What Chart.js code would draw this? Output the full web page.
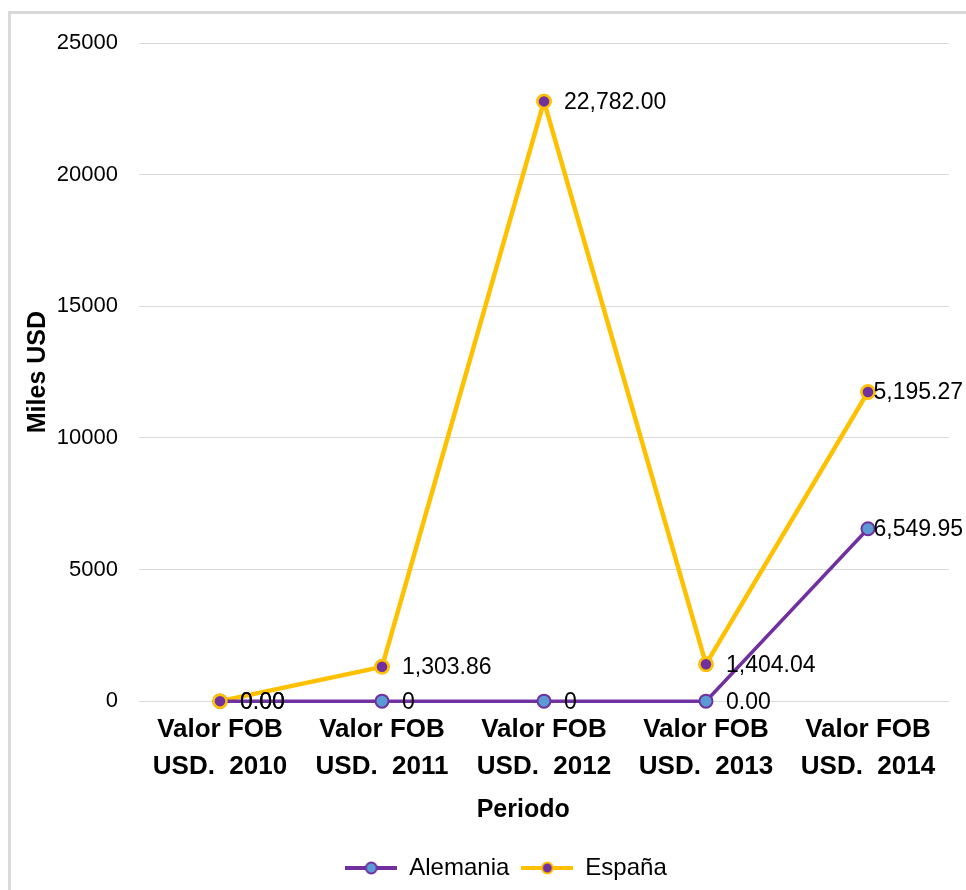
<!DOCTYPE html>
<html>
<head>
<meta charset="utf-8">
<script src="https://cdn.jsdelivr.net/npm/chart.js@4.4.1/dist/chart.umd.min.js"></script>
<style>
    html, body { margin: 0; padding: 0; background: #fff; overflow: hidden; }
    #frame {
        position: absolute; left: 8px; top: 11px; width: 1100px; height: 1000px;
        border-left: 3px solid #d9d9d9; border-top: 3px solid #d9d9d9;
    }
    #ExportChart { position: absolute; left: 0; top: 0; }
</style>
</head>
<body>
<div id="frame"></div>
<canvas id="ExportChart" width="966" height="890"></canvas>
<script>
const categories = [
    ["Valor FOB", "USD.  2010"],
    ["Valor FOB", "USD.  2011"],
    ["Valor FOB", "USD.  2012"],
    ["Valor FOB", "USD.  2013"],
    ["Valor FOB", "USD.  2014"],
];
const alemania = [0, 0, 0, 0, 6549.95];
const espana = [0, 1303.86, 22782.00, 1404.04, 5195.27];
// labels as they were shown in the source sheet
const alemaniaLabels = ["0.00", "0", "0", "0.00", "6,549.95"];
const espanaLabels = ["0.00", "1,303.86", "22,782.00", "1,404.04", "5,195.27"];
const yTicks = [0, 5000, 10000, 15000, 20000, 25000];

const FONT = "'Liberation Sans', Arial, sans-serif";

function legendSymbol(lineColor, fill, border) {
    const c = document.createElement("canvas");
    c.width = 52;
    c.height = 16;
    const g = c.getContext("2d");
    g.strokeStyle = lineColor;
    g.lineWidth = 4;
    g.beginPath();
    g.moveTo(0, 8);
    g.lineTo(52, 8);
    g.stroke();
    g.beginPath();
    g.arc(26, 8, 5.5, 0, Math.PI * 2);
    g.fillStyle = fill;
    g.fill();
    g.lineWidth = 2;
    g.strokeStyle = border;
    g.stroke();
    return c;
}

const symbols = [
    legendSymbol("#7030A0", "#5B9BD5", "#7030A0"),
    legendSymbol("#FFC000", "#7030A0", "#FFC000"),
];

function ExportChart() {
    const ctx = document.getElementById("ExportChart");

    new Chart(ctx, {
        type: "line",
        data: {
            labels: categories,
            datasets: [
                {
                    label: "Alemania",
                    data: alemania,
                    pointLabels: alemaniaLabels,
                    borderColor: "#7030A0",
                    backgroundColor: "#7030A0",
                    borderWidth: 3.5,
                    pointRadius: 6.5,
                    pointBorderWidth: 2,
                    pointBackgroundColor: "#5B9BD5",
                    pointBorderColor: "#7030A0",
                    fill: false,
                    tension: 0,
                    clip: false,
                },
                {
                    label: "España",
                    data: espana,
                    pointLabels: espanaLabels,
                    borderColor: "#FFC000",
                    backgroundColor: "#FFC000",
                    borderWidth: 4.5,
                    pointRadius: 6.5,
                    pointBorderWidth: 2.5,
                    pointBackgroundColor: "#7030A0",
                    pointBorderColor: "#FFC000",
                    fill: false,
                    tension: 0,
                    clip: false,
                },
            ],
        },
        options: {
            responsive: false,
            animation: false,
            layout: {
                padding: { left: 19, right: 17, top: 43, bottom: 0 },
            },
            scales: {
                x: {
                    offset: true,
                    grid: { display: false, drawTicks: false },
                    border: { display: false },
                    ticks: {
                        padding: 10,
                        color: "#000",
                        maxRotation: 0,
                        font: { family: FONT, size: 26, weight: "bold", lineHeight: 1.42 },
                    },
                    title: {
                        display: true,
                        // trailing spaces nudge the title left like the original
                        text: "Periodo      ",
                        color: "#000",
                        padding: { top: 0, bottom: 19 },
                        font: { family: FONT, size: 25, weight: "bold", lineHeight: 1.2 },
                    },
                },
                y: {
                    stacked: true,
                    min: 0,
                    max: 25000,
                    afterFit: function (scale) {
                        scale.width = 120;
                    },
                    afterBuildTicks: function (scale) {
                        scale.ticks = yTicks.map(v => ({ value: v }));
                    },
                    grid: { color: "#d9d9d9", lineWidth: 1, drawTicks: false },
                    border: { display: false },
                    ticks: {
                        padding: 21,
                        color: "#000",
                        font: { family: FONT, size: 22 },
                        callback: v => String(v),
                    },
                    title: {
                        display: true,
                        text: "Miles USD",
                        color: "#000",
                        font: { family: FONT, size: 25, weight: "bold", lineHeight: 1.2 },
                    },
                },
            },
            plugins: {
                tooltip: { enabled: false },
                legend: {
                    position: "bottom",
                    labels: {
                        usePointStyle: true,
                        pointStyleWidth: 52,
                        padding: 12,
                        color: "#000",
                        font: { family: FONT, size: 24 },
                        generateLabels: function (chart) {
                            const items = Chart.defaults.plugins.legend.labels.generateLabels(chart);
                            items.forEach((it, i) => { it.pointStyle = symbols[i]; });
                            return items;
                        },
                    },
                },
            },
        },
        plugins: [
            {
                id: "legendNudge",
                afterLayout(chart) {
                    // original legend sits a little right of centre
                    chart.legend.left += 22;
                    chart.legend.right += 22;
                },
            },
            {
                id: "pointValueLabels",
                afterDatasetsDraw(chart) {
                    const c = chart.ctx;
                    // España markers sit on top of Alemania in the source
                    const esMeta = chart.getDatasetMeta(1);
                    esMeta.data.forEach(p => p.draw(c, chart.chartArea));

                    c.save();
                    c.font = "23px " + FONT;
                    c.fillStyle = "#000";
                    c.textBaseline = "middle";
                    chart.data.datasets.forEach((ds, di) => {
                        const meta = chart.getDatasetMeta(di);
                        meta.data.forEach((pt, i) => {
                            const text = ds.pointLabels[i];
                            const w = c.measureText(text).width;
                            let x = pt.x + 20;
                            if (x + w > chart.width - 3) x = chart.width - 3 - w;
                            c.fillText(text, x, pt.y + 1);
                        });
                    });
                    c.restore();
                },
            },
        ],
    });
}

ExportChart();
</script>
</body>
</html>
